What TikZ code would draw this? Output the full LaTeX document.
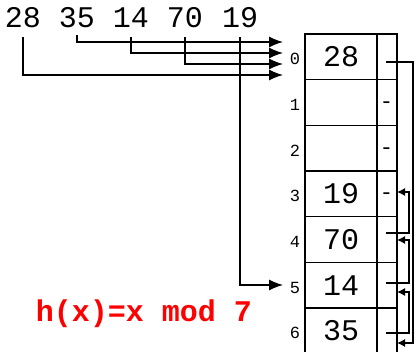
\documentclass[tikz,border=0pt]{standalone}
\usepackage{fontspec}
\setmonofont{Liberation Mono}
\usetikzlibrary{arrows.meta}
\begin{document}
\begin{tikzpicture}[x=1pt,y=-1pt,
  num/.style={font=\fontsize{30}{30}\selectfont\ttfamily, inner sep=0pt},
  idx/.style={font=\fontsize{17}{17}\selectfont\ttfamily, inner sep=0pt},
  dashmark/.style={font=\fontsize{22}{22}\selectfont\ttfamily, inner sep=0pt, anchor=base},
  valcell/.style={draw, line width=1.2pt, minimum width=72pt, minimum height=45.67pt, inner sep=0pt, font=\fontsize{30}{30}\selectfont\ttfamily},
  ptrcell/.style={draw, line width=1.2pt, minimum width=20pt, minimum height=45.67pt, inner sep=0pt},
  link/.style={line width=1.2pt, -{Latex[length=14pt,width=11pt]}},
  chain/.style={line width=1.2pt, -{Latex[length=8pt,width=8pt]}}
]
\useasboundingbox (0,0) rectangle (415,352);
% table
\foreach \i/\v in {0/28,1/,2/,3/19,4/70,5/14,6/35}{
  \node[valcell] (val\i) at (341,{56.83+45.67*\i}) {\v};
  \node[ptrcell] (ptr\i) at (387,{56.83+45.67*\i}) {};
  \node[idx] (idx\i) at (295,{59.3+45.67*\i}) {\i};
}
% null markers
\node[dashmark] (d1) at (386.5,109) {-};
\node[dashmark] (d2) at (386.5,154.5) {-};
\node[dashmark] (d3) at (386.5,200) {-};
% keys
\node[num] (n28) at (23,18) {28};
\node[num] (n35) at (77,18) {35};
\node[num] (n14) at (131,18) {14};
\node[num] (n70) at (185,18) {70};
\node[num] (n19) at (240,18) {19};
% arrow targets
\coordinate (a35) at (283,42);
\coordinate (a14) at (283,53);
\coordinate (a70) at (283,64);
\coordinate (a28) at (283,75);
\coordinate (a19) at (283,285);
\draw[link] ([yshift=-7pt]n35.south) |- (a35);
\draw[link] ([yshift=-9pt]n14.south) |- (a14);
\draw[link] ([yshift=-9pt]n70.south) |- (a70);
\draw[link] ([yshift=-9pt]n28.south) |- (a28);
\draw[link] ([yshift=-9pt]n19.south) |- (a19);
% chain
\coordinate (s0) at (386,62);
\coordinate (s4) at (386,233);
\coordinate (s5) at (386,283);
\coordinate (s6) at (386,333);
\coordinate (t3) at (397,192);
\coordinate (t4) at (397,240);
\coordinate (t5) at (397,292);
\coordinate (t6) at (397,343);
\draw[chain] (s0) -- (413,62) |- (t6);
\draw[chain] (s6) -- (409,333) |- (t5);
\draw[chain] (s5) -- (409,283) |- (t4);
\draw[chain] (s4) -- (409,233) |- (t3);
% formula
\node[font=\fontsize{30}{30}\selectfont\ttfamily\bfseries, text=red, inner sep=0pt] (hx) at (144,314) {h(x)=x mod 7};
\end{tikzpicture}
\end{document}
